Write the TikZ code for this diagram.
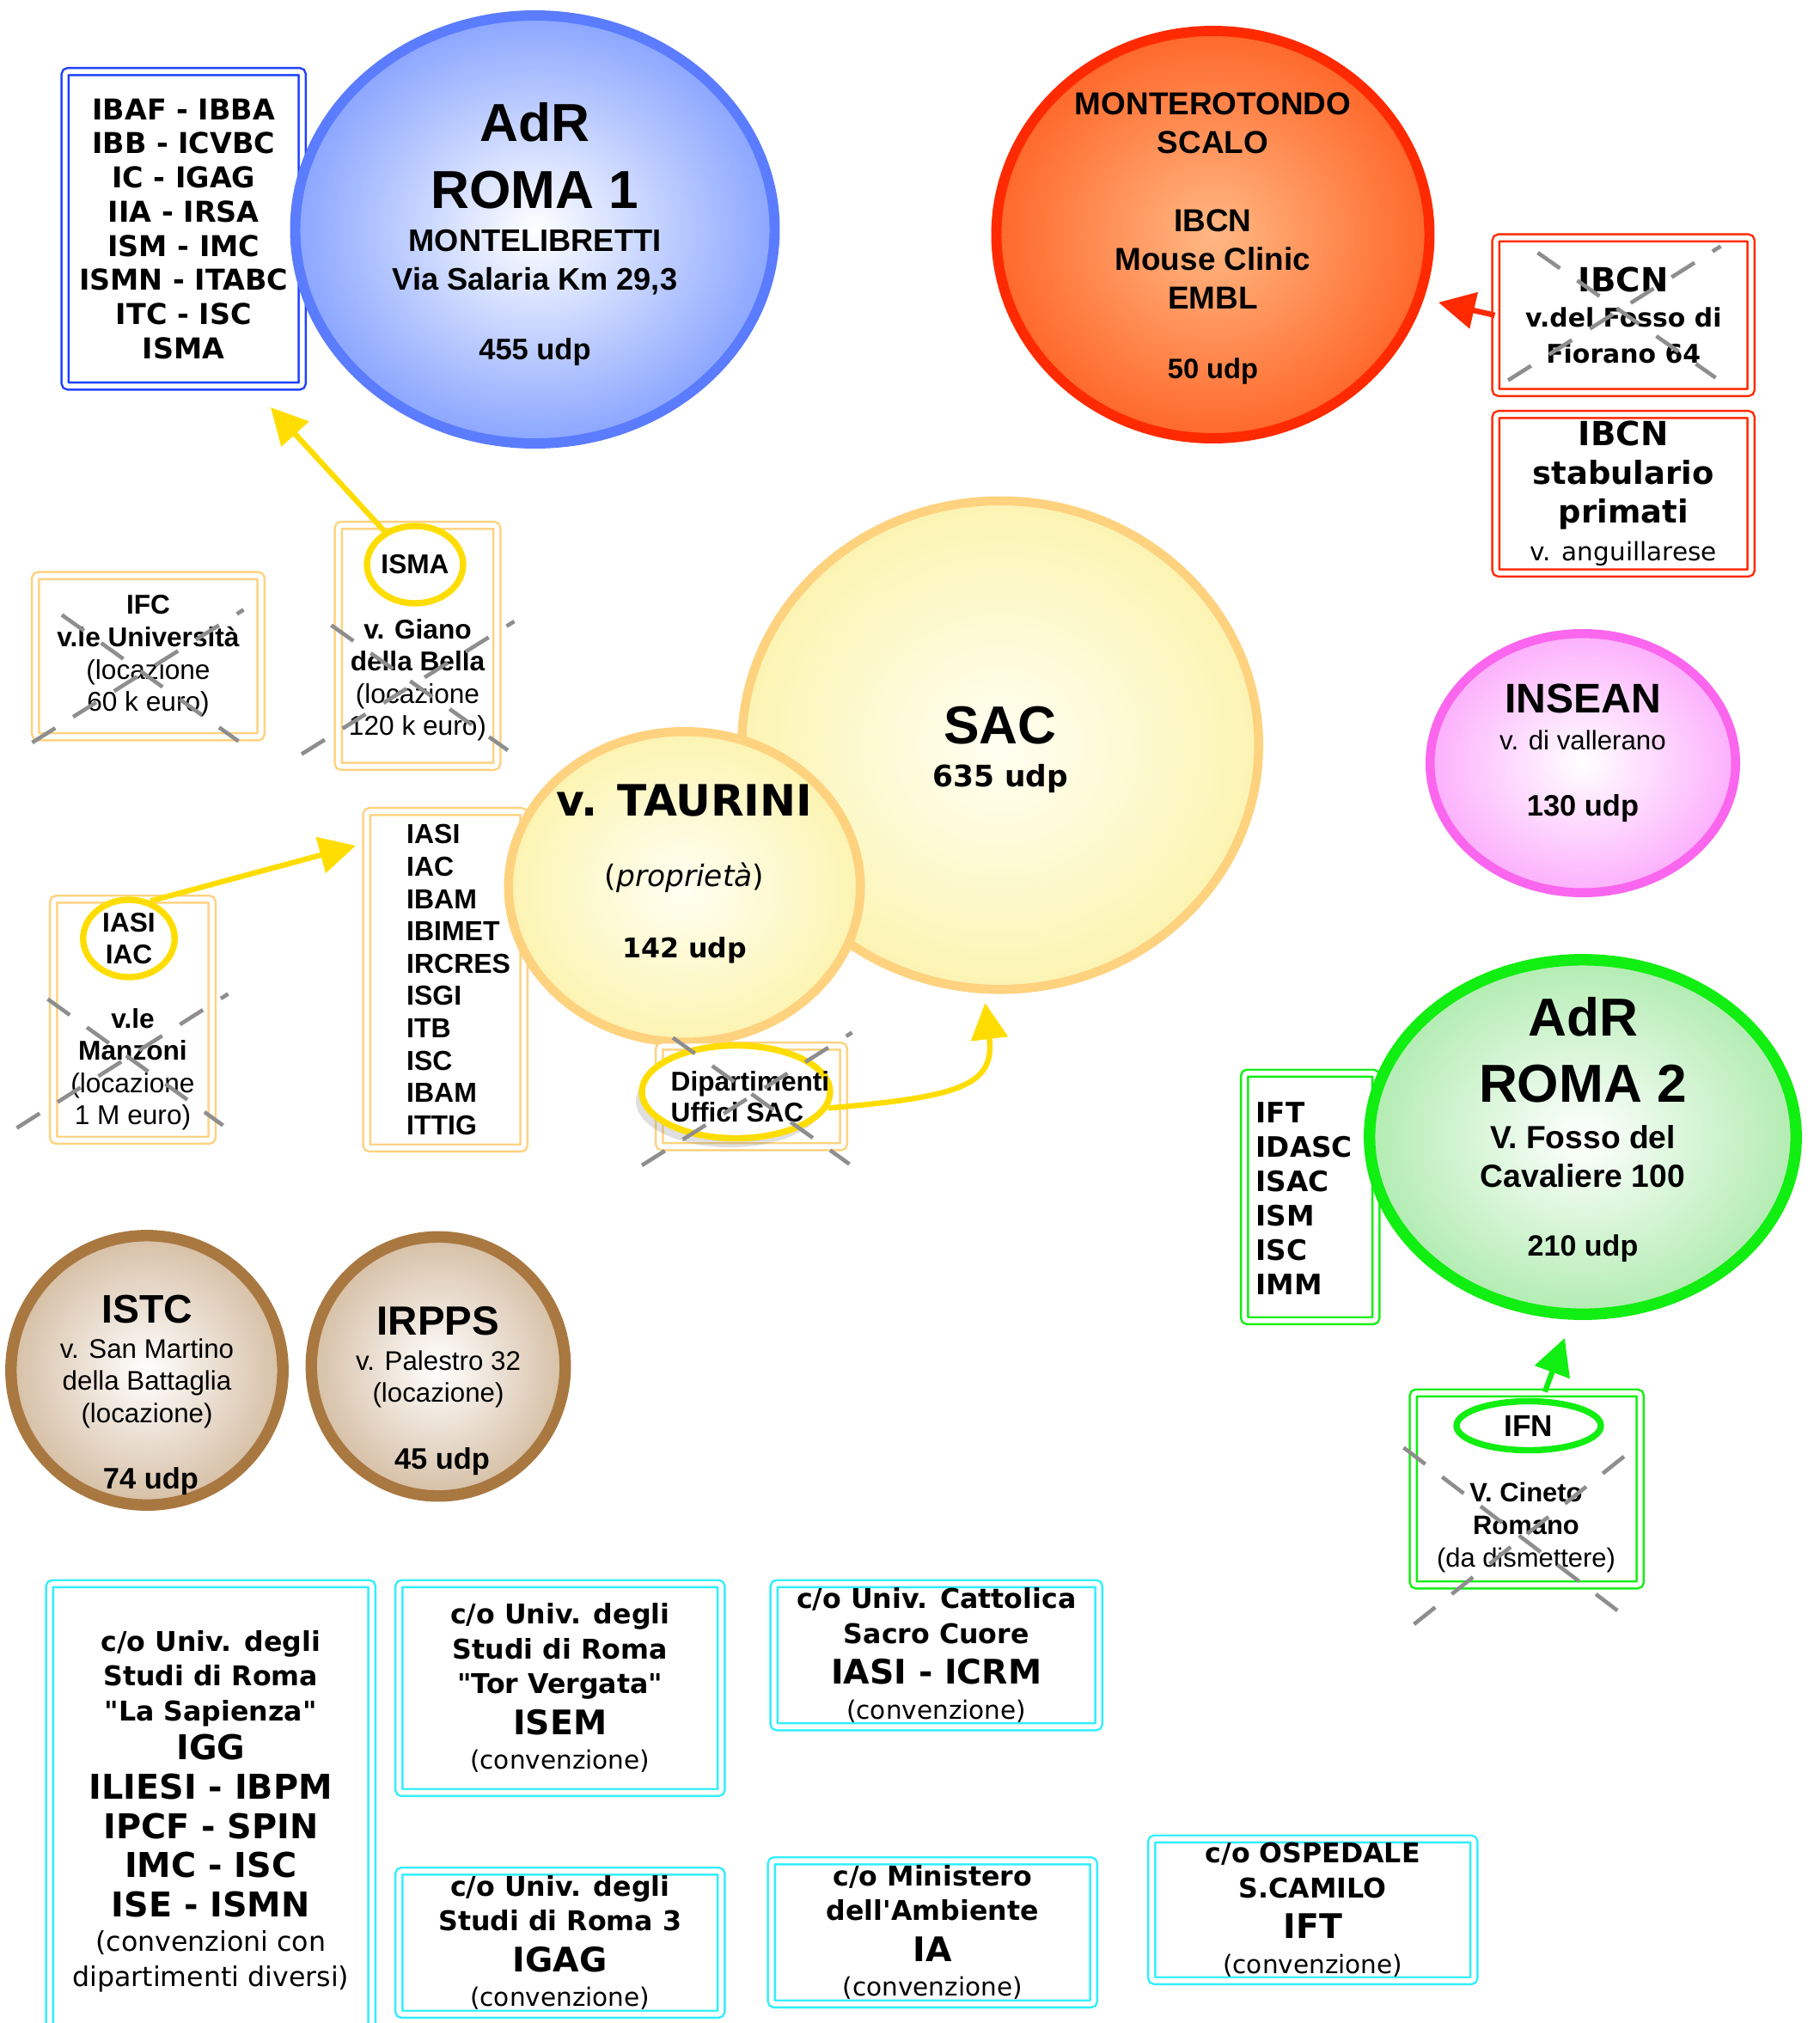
\documentclass[tikz,border=0pt]{standalone}
\usepackage{fontspec}
\setmainfont{Liberation Sans}
\newfontfamily\vfont{DejaVu Sans}
\usetikzlibrary{arrows.meta,shapes.geometric,shadows}

\newcommand\pu{0.015cm}
\newcommand\fsz[1]{\fontsize{#1pt}{#1pt}\selectfont}
\newcommand\lsp[2]{\fontsize{#1pt}{#2pt}\selectfont}

\definecolor{blueline}{HTML}{1F3FFF}
\definecolor{blueedge}{HTML}{5B7CFF}
\definecolor{bluefill}{HTML}{8AA6FF}
\definecolor{redline}{HTML}{FF2A00}
\definecolor{orangein}{HTML}{FFB884}
\definecolor{orangefill}{HTML}{FF682A}
\definecolor{sacedge}{HTML}{FFD27F}
\definecolor{sacin}{HTML}{FFFFF2}
\definecolor{sacfill}{HTML}{FCF4B2}
\definecolor{yel}{HTML}{FFDD00}
\definecolor{magedge}{HTML}{FB66EE}
\definecolor{magfill}{HTML}{FCB0FC}
\definecolor{grn}{HTML}{11EE11}
\definecolor{grnfill}{HTML}{B2ECB2}
\definecolor{brn}{HTML}{A97841}
\definecolor{brnfill}{HTML}{D6BFA5}
\definecolor{cyanline}{HTML}{30EEFF}
\definecolor{xgray}{HTML}{8E8E8E}

\tikzset{
  sz/.style 2 args={minimum width=#1*\pu, minimum height=#2*\pu},
  site/.style n args={3}{ellipse, inner sep=0pt, draw=#1, line width=3.4pt,
    inner color=#2, outer color=#3},
  frame/.style={rectangle, inner sep=0pt, align=center, draw=#1, line width=0.7pt,
    double=white, double distance=1.6pt, rounded corners=1pt, fill=white},
  ring/.style={ellipse, inner sep=0pt, align=center, draw=#1, line width=2.1pt, fill=white},
  txt/.style={inner sep=0pt, align=center},
  link/.style={draw=#1, line width=1.8pt, -{Triangle[length=12pt,width=12pt]}},
  gone/.style={draw=xgray, line width=1.3pt, dash pattern=on 9pt off 7pt},
}

\begin{document}
\begin{tikzpicture}[x=0.015cm, y=-0.015cm]
  \fill[white] (0,0) rectangle (1412,1569.33);
  \useasboundingbox (0,0) rectangle (1412,1569.33);

  % AdR Roma 1
  \node[frame=blueline, sz={184}{244}, font=\vfont\bfseries\lsp{9.5}{11.3}] (roma1list) at (142.5,177.5)
    {IBAF - IBBA\\IBB - ICVBC\\IC - IGAG\\IIA - IRSA\\ISM - IMC\\ISMN - ITABC\\ITC - ISC\\ISMA};
  \node[site={blueedge}{white}{bluefill}, sz={372}{332}] (roma1) at (415,178) {};
  \node[txt, font=\bfseries\lsp{17.7}{22.2}] (roma1name) at (415,121) {AdR\\ROMA 1};
  \node[txt, font=\bfseries\lsp{10.3}{12.8}] (roma1addr) at (415,231)
    {MONTELIBRETTI\\Via Salaria Km 29,3\\[10.2pt]\fsz{9.8}455 udp};

  % Monterotondo
  \node[site={redline}{orangein}{orangefill}, sz={336}{316}] (monte) at (941,182) {};
  \node[txt, font=\bfseries\lsp{10.5}{12.8}] (montetxt) at (941,185)
    {MONTEROTONDO\\SCALO\\[13.2pt]IBCN\\Mouse Clinic\\EMBL\\[10.2pt]\fsz{9.3}50 udp};
  \node[frame=redline, sz={198}{120}, font=\vfont\bfseries\lsp{8.5}{11.7}] (ibcnold) at (1259.5,244.5)
    {\fsz{11}IBCN\\v.del Fosso di\\Fiorano 64};
  \node[frame=redline, sz={198}{123}, font=\vfont\bfseries\lsp{10.5}{12.7}] (ibcnprim) at (1259.5,383)
    {\fsz{11}IBCN\\stabulario\\primati\\\mdseries\fsz{8.4}v. anguillarese};

  % SAC and v. Taurini
  \node[site={sacedge}{sacin}{sacfill}, line width=3pt, sz={401}{379}] (sac) at (776,578) {};
  \node[txt, font=\bfseries\fsz{17.7}] (sacname) at (776,563) {SAC};
  \node[txt, font=\vfont\bfseries\fsz{9.8}] (sacudp) at (776,604) {635 udp};
  \node[frame=sacedge, sz={122}{261}] (tauribox) at (345.5,760) {};
  \node[txt, align=left, anchor=west, font=\bfseries\lsp{9.1}{10.7}] (taurilist) at (315,760)
    {IASI\\IAC\\IBAM\\IBIMET\\IRCRES\\ISGI\\ITB\\ISC\\IBAM\\ITTIG};
  \node[site={sacedge}{sacin}{sacfill}, line width=3pt, sz={273}{241}] (taurini) at (531,688) {};
  \node[txt, font=\vfont\bfseries\fsz{14.3}] (tauriname) at (531,621) {v. TAURINI};
  \node[txt, font=\vfont\fsz{9.8}] (tauriprop) at (531,681) {(\textit{proprietà})};
  \node[txt, font=\vfont\bfseries\fsz{9}] (tauriudp) at (531,737) {142 udp};

  \node[frame=sacedge, sz={143}{78}] (dipbox) at (583,850.5) {};
  \node[ring=yel, sz={146}{72}, drop shadow={opacity=0.25, shadow xshift=-2pt, shadow yshift=-3pt}] (dipring) at (571,847) {};
  \node[txt, align=left, anchor=west, font=\bfseries\lsp{9}{10.2}] (diptxt) at (520,851) {Dipartimenti\\Uffici SAC};

  % sedi in locazione
  \node[frame=sacedge, sz={175}{125}, font=\lsp{9}{10.7}] (ifcbox) at (115,509)
    {\bfseries IFC\\\bfseries v.le Università\\(locazione\\60 k euro)};
  \node[frame=sacedge, sz={123}{187}] (ismabox) at (324,501) {};
  \node[ring=yel, sz={72}{60}, font=\bfseries\fsz{9}] (ismaring) at (322,438) {ISMA};
  \node[txt, font=\lsp{9}{10.7}] (ismatxt) at (324,527.5)
    {\bfseries v. Giano\\\bfseries della Bella\\(locazione\\120 k euro)};
  \node[frame=sacedge, sz={123}{187}] (iasibox) at (103,791) {};
  \node[ring=yel, sz={71}{60}, font=\bfseries\lsp{9}{10.7}] (iasiring) at (100,728) {IASI\\IAC};
  \node[txt, font=\lsp{9}{10.7}] (iasitxt) at (103,829.5)
    {\bfseries v.le\\\bfseries Manzoni\\(locazione\\1 M euro)};

  % INSEAN
  \node[site={magedge}{white}{magfill}, line width=3pt, sz={237}{201}] (insean) at (1228,592) {};
  \node[txt, font=\bfseries\fsz{13.7}] (inseanname) at (1228,542) {INSEAN};
  \node[txt, font=\fsz{8.9}] (inseanaddr) at (1228,574) {v. di vallerano};
  \node[txt, font=\bfseries\fsz{9.8}] (inseanudp) at (1228,627) {130 udp};

  % AdR Roma 2
  \node[frame=grn, sz={102}{192}] (grnbox) at (1016.5,928.5) {};
  \node[txt, align=left, anchor=west, font=\vfont\bfseries\lsp{9.3}{11.4}] (grnlist) at (974,929.5)
    {IFT\\IDASC\\ISAC\\ISM\\ISC\\IMM};
  \node[site={grn}{white}{grnfill}, line width=3.8pt, sz={331}{275}] (roma2) at (1228,882) {};
  \node[txt, font=\bfseries\lsp{17.7}{22}] (roma2name) at (1228,814.5) {AdR\\ROMA 2};
  \node[txt, font=\bfseries\lsp{10.6}{12.8}] (roma2addr) at (1228,926)
    {V. Fosso del\\Cavaliere 100\\[10.2pt]\fsz{9.7}210 udp};
  \node[frame=grn, sz={176}{149}] (ifnbox) at (1184.5,1155) {};
  \node[ring=grn, sz={112}{38}, font=\bfseries\fsz{10}] (ifnring) at (1186,1106) {IFN};
  \node[txt, font=\lsp{8.8}{10.7}] (ifntxt) at (1184,1185)
    {\bfseries V. Cineto\\\bfseries Romano\\(da dismettere)};

  % ISTC, IRPPS
  \node[site={brn}{white}{brnfill}, line width=3.8pt, sz={211}{209}] (istc) at (114,1063) {};
  \node[txt, font=\bfseries\fsz{13.2}] (istcname) at (114,1016) {ISTC};
  \node[txt, font=\lsp{8.9}{10.7}] (istcaddr) at (114,1073) {v. San Martino\\della Battaglia\\(locazione)};
  \node[txt, font=\bfseries\fsz{9.8}] (istcudp) at (117,1149) {74 udp};
  \node[site={brn}{white}{brnfill}, line width=3.8pt, sz={197}{201}] (irpps) at (340,1060) {};
  \node[txt, font=\bfseries\fsz{13.5}] (irppsname) at (340,1025) {IRPPS};
  \node[txt, font=\lsp{8.9}{10.5}] (irppsaddr) at (340,1070) {v. Palestro 32\\(locazione)};
  \node[txt, font=\bfseries\fsz{9.8}] (irppsudp) at (343,1134) {45 udp};

  % convenzioni
  \begin{scope}[every node/.style={frame=cyanline, font=\vfont\lsp{9}{11.5}}]
    \node[sz={250}{353}] (sapienza) at (163.5,1405)
      {\bfseries c/o Univ. degli\\\bfseries Studi di Roma\\\bfseries "La Sapienza"\\[1.5pt]
       \bfseries\fsz{11.3}IGG\\[1.5pt]\bfseries\fsz{11.3}ILIESI - IBPM\\[1.5pt]
       \bfseries\fsz{11.3}IPCF - SPIN\\[1.5pt]\bfseries\fsz{11.3}IMC - ISC\\[1.5pt]
       \bfseries\fsz{11.3}ISE - ISMN\\(convenzioni con\\dipartimenti diversi)};
    \node[sz={250}{162}] (torverg) at (434.5,1309.5)
      {\bfseries c/o Univ. degli\\\bfseries Studi di Roma\\\bfseries "Tor Vergata"\\[2pt]
       \bfseries\fsz{11.2}ISEM\\\fsz{8.4}(convenzione)};
    \node[sz={252}{111}] (cattolica) at (726.5,1284)
      {\bfseries c/o Univ. Cattolica\\\bfseries Sacro Cuore\\[2pt]\bfseries\fsz{11.2}IASI - ICRM\\\fsz{8.4}(convenzione)};
    \node[sz={250}{111}] (romatre) at (434.5,1507)
      {\bfseries c/o Univ. degli\\\bfseries Studi di Roma 3\\[2pt]\bfseries\fsz{11.2}IGAG\\\fsz{8.4}(convenzione)};
    \node[sz={250}{111}] (ambiente) at (723.5,1499)
      {\bfseries c/o Ministero\\\bfseries dell'Ambiente\\[2pt]\bfseries\fsz{11.2}IA\\\fsz{8.4}(convenzione)};
    \node[sz={250}{110}] (camilo) at (1018.5,1481.5)
      {\bfseries c/o OSPEDALE\\\bfseries S.CAMILO\\[2pt]\bfseries\fsz{11.2}IFT\\\fsz{8.4}(convenzione)};
  \end{scope}

  % trasferimenti
  \coordinate (roma1in) at (210,316);
  \coordinate (tauriin) at (276,656);
  \draw[link=yel] (ismaring) -- (roma1in);
  \draw[link=yel] (iasiring.60) -- (tauriin);
  \draw[link=yel] (dipring.-10) .. controls (745,851) and (772,842) .. ([xshift=-5pt,yshift=-3pt]sac.south);
  \draw[link=redline, shorten >=5pt] (ibcnold.west) -- (monte.-17);
  \draw[link=grn] ([xshift=6pt]ifnbox.north) -- ([xshift=-6pt,yshift=-6pt]roma2.south);

  % sedi da dismettere
  \draw[gone] (48,477) -- (185,575);
  \draw[gone] (25,576) -- (189,473);
  \draw[gone] (257,485) -- (394,582);
  \draw[gone] (234,585) -- (399,482);
  \draw[gone] (37,775) -- (173,873);
  \draw[gone] (13,875) -- (177,771);
  \draw[gone] (522,805) -- (659,903);
  \draw[gone] (498,904) -- (661,801);
  \draw[gone] (1193,196) -- (1331,293);
  \draw[gone] (1170,295) -- (1335,191);
  \draw[gone] (1089,1123) -- (1257,1251);
  \draw[gone] (1097,1260) -- (1266,1125);
\end{tikzpicture}
\end{document}
